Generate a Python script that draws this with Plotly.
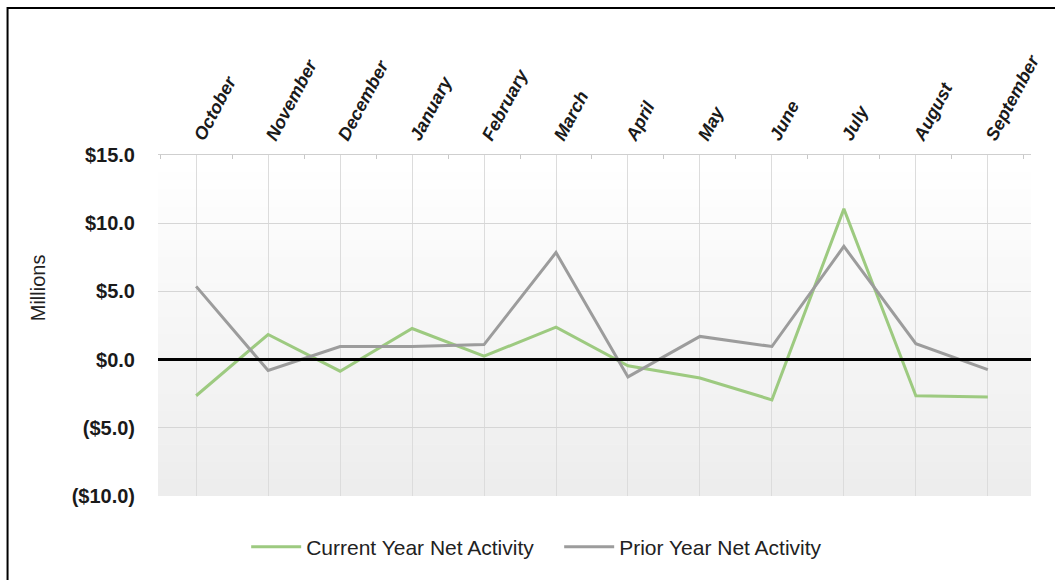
import plotly.graph_objects as go

months = ["October", "November", "December", "January", "February", "March",
          "April", "May", "June", "July", "August", "September"]
current_year = [-2.65, 1.84, -0.85, 2.28, 0.25, 2.38, -0.45, -1.35, -2.95, 11.05, -2.65, -2.75]
prior_year = [5.37, -0.8, 0.96, 0.96, 1.1, 7.85, -1.27, 1.7, 0.96, 8.3, 1.17, -0.74]
y_tick_vals = [15, 10, 5, 0, -5, -10]
y_tick_text = ["$15.0", "$10.0", "$5.0", "$0.0", "($5.0)", "($10.0)"]
series_names = ["Current Year Net Activity", "Prior Year Net Activity"]
series_colors = ["#9dca80", "#9c9c9c"]

fig = go.Figure()
fig.add_trace(go.Scatter(x=months, y=current_year, mode="lines", name=series_names[0],
                         line=dict(color=series_colors[0], width=3)))
fig.add_trace(go.Scatter(x=months, y=prior_year, mode="lines", name=series_names[1],
                         line=dict(color=series_colors[1], width=3)))
# invisible helper trace so the boundary-tick axis knows its categories
fig.add_trace(go.Scatter(x=months, y=current_year, xaxis="x2", mode="lines",
                         line=dict(color="rgba(0,0,0,0)", width=0), showlegend=False,
                         hoverinfo="skip"))

# gradient plot background
n = 40
shapes = []
for i in range(n):
    v = int(round(237 + (255 - 237) * (i / (n - 1))))
    shapes.append(dict(type="rect", xref="x domain", yref="y domain",
                       x0=0, x1=1, y0=i / n, y1=(i + 1) / n + 0.002,
                       fillcolor=f"rgb({v},{v},{v})", line=dict(width=0), layer="below"))
# outer frame (left and top edges visible)
shapes.append(dict(type="rect", xref="paper", yref="paper",
                   x0=(6 - 158) / 882, x1=1.5, y0=-1.0, y1=1 + (155 - 8) / 341,
                   line=dict(color="black", width=2), fillcolor="rgba(0,0,0,0)", layer="above"))

xaxis_range = [-0.53, 11.6]
fig.update_layout(
    width=1055, height=580, autosize=False,
    margin=dict(l=158, r=15, t=155, b=84),
    paper_bgcolor="white", plot_bgcolor="white",
    shapes=shapes,
    xaxis=dict(type="category", categoryorder="array", categoryarray=months,
               side="top", range=xaxis_range, showgrid=True, gridcolor="#dcdcdc",
               gridwidth=1, showline=True, linecolor="#cfcfcf", linewidth=1,
               ticks="", tickangle=-62,
               tickfont=dict(family="Liberation Sans", size=18, color="#1a1a1a",
                             weight="bold", style="italic"),
               zeroline=False, fixedrange=True),
    xaxis2=dict(type="category", categoryorder="array", categoryarray=months,
                overlaying="x", side="top", range=xaxis_range, showgrid=False,
                tickson="boundaries", ticks="inside", ticklen=4, tickcolor="#c8c8c8",
                showticklabels=False, zeroline=False, showline=False),
    yaxis=dict(range=[-10, 15], tickvals=y_tick_vals, ticktext=y_tick_text,
               showgrid=True, gridcolor="#d6d6d6", gridwidth=1,
               zeroline=True, zerolinecolor="black", zerolinewidth=3,
               zerolinelayer="above traces",
               showline=False, ticks="", ticklabelstandoff=22,
               tickfont=dict(family="Liberation Sans", size=20, color="#1a1a1a",
                             weight="bold")),
    legend=dict(orientation="h", x=0.101, xanchor="left", y=-0.15, yanchor="middle",
                font=dict(family="Liberation Sans", size=21, color="#222222"),
                bgcolor="rgba(0,0,0,0)", itemwidth=50, entrywidth=248),
    annotations=[dict(text="Millions", xref="paper", yref="paper",
                      x=(37 - 158) / 882, y=(496 - 288) / 341, xanchor="center",
                      yanchor="middle", textangle=-90, showarrow=False,
                      font=dict(family="Liberation Sans", size=20, color="#222222"))],
)

fig.write_html("out.html", config={"displayModeBar": False},
               post_script="document.body.style.margin='0px';")
